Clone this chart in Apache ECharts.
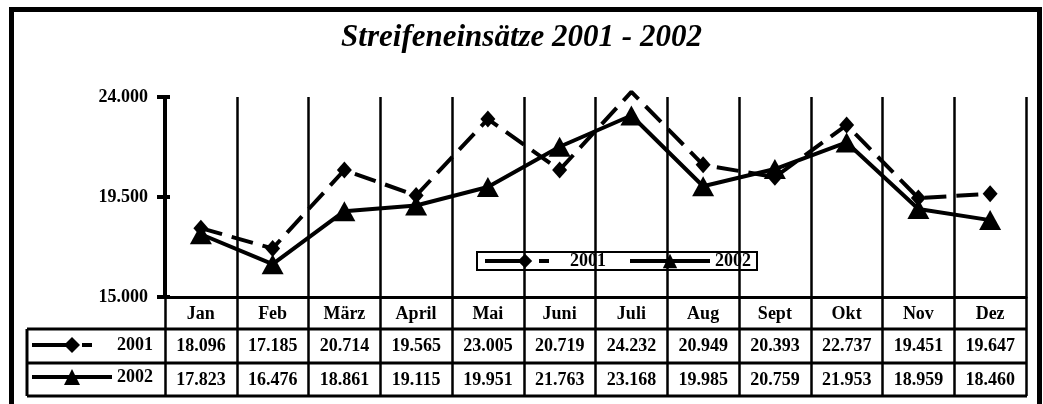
<!DOCTYPE html>
<html>
<head>
<meta charset="utf-8">
<script src="https://cdn.jsdelivr.net/npm/echarts@6/dist/echarts.min.js"></script>
<style>
  html, body { margin: 0; padding: 0; background: #fff; }
  #chart { width: 1043px; height: 404px; }
</style>
</head>
<body>
<div id="chart"></div>
<script>
// Monthly patrol deployments, 2001 vs 2002
const months = ['Jan', 'Feb', 'März', 'April', 'Mai', 'Juni', 'Juli', 'Aug', 'Sept', 'Okt', 'Nov', 'Dez'];
const values2001 = [18096, 17185, 20714, 19565, 23005, 20719, 24232, 20949, 20393, 22737, 19451, 19647];
const values2002 = [17823, 16476, 18861, 19115, 19951, 21763, 23168, 19985, 20759, 21953, 18959, 18460];
const seriesNames = ['2001', '2002'];
const yMin = 15000, yMax = 24000, yStep = 4500;

// German thousands separator: 18096 -> "18.096"
function fmt(v) {
  return String(Math.round(v)).replace(/\B(?=(\d{3})+(?!\d))/g, '.');
}

const FONT = 'Liberation Serif';
const labelFont = { fontFamily: FONT, fontWeight: 'bold', fontSize: 18, color: '#000' };

// layout
const W = 1043, H = 404;
const gridL = 165, gridR = 1026, gridT = 97, gridB = 297;
const rowLines = [329, 363, 396];
const tableL = 27;

const chart = echarts.init(document.getElementById('chart'), null, { renderer: 'canvas' });

const graphics = [
  // outer frame
  { type: 'rect', shape: { x: 11.5, y: 9.5, width: 1028, height: 420 },
    style: { fill: null, stroke: '#000', lineWidth: 5 }, silent: true, z: 10 },
  // left column of the data table
  { type: 'line', shape: { x1: tableL, y1: rowLines[0], x2: tableL, y2: rowLines[2] },
    style: { stroke: '#000', lineWidth: 3 }, silent: true }
];
rowLines.forEach(y => graphics.push({
  type: 'line', shape: { x1: tableL, y1: y, x2: gridR + 1, y2: y },
  style: { stroke: '#000', lineWidth: 3 }, silent: true
}));

const rowAxis = (offset, vals) => ({
  type: 'category', data: months, position: 'bottom', offset: offset, gridIndex: 0,
  boundaryGap: true,
  axisLine: { show: false }, axisTick: { show: false }, splitLine: { show: false },
  axisLabel: Object.assign({ interval: 0, margin: 8, formatter: (v, i) => fmt(vals[i]) }, labelFont)
});

// legend keys: 2001 = long stroke, marker, short stroke; 2002 = solid
const keyStyle2001 = (a, b) => ({ width: 4, color: '#000', type: [a, 10, 10, 200], dashOffset: 0 });
const keyStyle2002 = { width: 4, color: '#000', type: 'solid' };

const option = {
  animation: false,
  backgroundColor: '#fff',
  title: {
    text: 'Streifeneinsätze 2001 - 2002',
    left: 'center', top: 17,
    textStyle: { fontFamily: FONT, fontStyle: 'italic', fontWeight: 'bold', fontSize: 31, color: '#000' }
  },
  legend: [
    {
      data: [
        { name: seriesNames[0], lineStyle: keyStyle2001(44) },
        { name: seriesNames[1], lineStyle: keyStyle2002 }
      ],
      selectedMode: false,
      left: 477, top: 252,
      borderColor: '#000', borderWidth: 2, padding: [0, 6],
      itemWidth: 80, itemHeight: 18, itemGap: 22,
      textStyle: labelFont
    },
    {
      data: [
        { name: seriesNames[0], lineStyle: keyStyle2001(40) },
        { name: seriesNames[1], lineStyle: keyStyle2002 }
      ],
      selectedMode: false, orient: 'vertical',
      left: 30, top: 336, padding: 0,
      itemWidth: 80, itemHeight: 20, itemGap: 14,
      textStyle: labelFont
    }
  ],
  grid: { left: gridL, right: W - gridR, top: gridT, bottom: H - gridB },
  xAxis: [
    {
      type: 'category', data: months, boundaryGap: true,
      axisLine: { lineStyle: { color: '#000', width: 3 } },
      axisTick: { show: true, interval: 0, length: 99, lineStyle: { color: '#000', width: 2.5 } },
      splitLine: { show: true, interval: 0, lineStyle: { color: '#000', width: 2.5 } },
      axisLabel: Object.assign({ interval: 0, margin: 8 }, labelFont)
    },
    rowAxis(32, values2001),
    rowAxis(66, values2002)
  ],
  yAxis: [
    {
      type: 'value', min: yMin, max: yMax, interval: yStep,
      axisLine: { show: true, lineStyle: { color: '#000', width: 4 } },
      axisTick: { show: true, length: 8, lineStyle: { color: '#000', width: 4 } },
      splitLine: { show: false },
      axisLabel: Object.assign({ margin: 17, formatter: fmt }, labelFont)
    },
    {
      type: 'value', min: yMin, max: yMax, interval: yStep, position: 'left',
      axisLine: { show: false },
      axisTick: { show: true, inside: true, length: 5, lineStyle: { color: '#000', width: 4 } },
      splitLine: { show: false },
      axisLabel: { show: false }
    }
  ],
  series: [
    {
      name: seriesNames[0], type: 'line', clip: false,
      data: values2001.map(v => v > yMax ? { value: v, symbol: 'none' } : v),
      symbol: 'diamond', symbolSize: [15, 17],
      itemStyle: { color: '#000' },
      lineStyle: { color: '#000', width: 4, type: [22, 10] }
    },
    {
      name: seriesNames[1], type: 'line', clip: false,
      data: values2002,
      symbol: 'triangle', symbolSize: [22, 20],
      itemStyle: { color: '#000' },
      lineStyle: { color: '#000', width: 4 }
    }
  ],
  graphic: graphics
};

chart.setOption(option);
</script>
</body>
</html>
